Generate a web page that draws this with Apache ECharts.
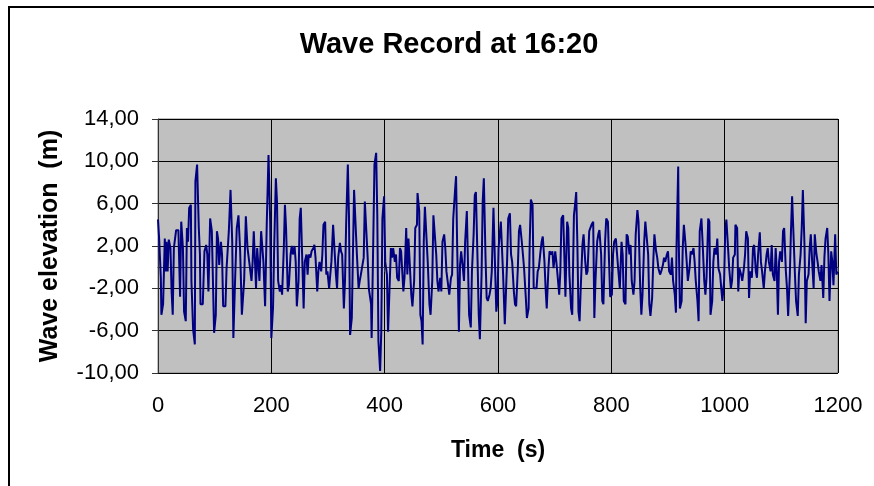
<!DOCTYPE html>
<html>
<head>
<meta charset="utf-8">
<script src="https://cdn.jsdelivr.net/npm/echarts@6/dist/echarts.min.js"></script>
<style>
html,body{margin:0;padding:0;background:#fff;}
#c{width:874px;height:486px;}
</style>
</head>
<body>
<div id="c"></div>
<script>
// Time (s) of each sample
var time = [
0,2,5,6,9,12,14,15,17,19,22,24,26,28,32,36,39,41,44,46,49,51,53,55,58,59,62,65,66,69,72,74,75,79,82,85,87,89,92,95,99,
102,104,106,108,111,113,115,119,121,125,128,131,133,136,139,142,145,148,152,155,158,161,165,167,169,173,175,179,182,186,189,192,195,198,200,
203,205,208,210,212,215,217,219,222,224,226,229,231,234,236,238,241,243,245,248,250,252,255,257,259,262,264,266,269,271,274,276,278,281,283,285,288,290,292,295,297,299,
302,304,306,309,311,314,316,318,321,323,325,328,330,332,335,337,339,342,344,346,349,351,354,356,358,361,363,365,368,370,372,376,377,379,382,385,387,389,392,394,396,399,
401,404,406,408,411,413,415,418,420,422,425,427,429,432,433,435,438,440,442,445,447,449,452,454,457,458,461,463,465,467,469,471,474,476,479,481,484,486,488,491,493,495,498,
500,502,505,507,509,512,514,517,519,521,524,526,528,531,533,535,538,540,542,545,547,549,552,554,557,559,561,564,566,568,571,573,575,578,580,582,585,587,589,592,594,597,599,
601,605,607,609,612,616,618,621,623,625,628,630,632,635,637,639,642,644,646,649,651,654,656,658,661,663,665,668,670,672,675,677,679,682,684,686,689,691,694,696,698,
701,703,705,708,710,712,715,717,719,722,724,726,729,731,734,736,738,740,742,744,746,749,751,754,756,758,761,763,765,768,770,772,775,777,779,782,784,786,789,791,794,796,798,
801,803,805,808,810,812,815,818,820,822,825,827,829,832,834,836,839,841,843,846,848,851,853,855,858,860,862,865,867,869,872,874,876,879,881,883,886,888,891,893,895,898,
900,902,905,907,909,912,914,915,918,919,921,924,926,928,931,933,935,938,940,942,945,947,949,952,954,956,959,961,964,966,968,971,973,975,978,980,982,985,987,989,992,994,996,999,
1001,1003,1006,1008,1011,1013,1015,1018,1019,1022,1024,1026,1029,1031,1034,1036,1038,1041,1043,1045,1048,1050,1052,1055,1057,1059,1062,1064,1066,1069,1071,1074,1076,1078,1081,1083,1085,1088,1090,1092,1094,1096,1098,
1101,1103,1105,1108,1110,1112,1115,1117,1119,1122,1124,1126,1129,1131,1134,1136,1138,1141,1143,1145,1148,1150,1152,1155,1157,1159,1162,1164,1166,1169,1171,1174,1176,1178,1181,1183,1185,1188,1190,1192,1195,1197,1199
];
// Wave elevation (m) at each sample
var elevation = [
4.5,2.7,-1.0,-4.5,-3.5,2.7,-0.4,2.4,-0.4,2.6,1.8,-2.3,-4.5,1.8,3.5,3.5,-2.8,4.3,1.8,-4.2,-5.1,3.7,2.4,5.6,5.9,-1.3,-5.9,-7.3,8.1,9.7,3.7,1.2,-3.5,-3.5,1.5,2.1,1.2,-2.3,4.6,3.4,-6.2,
-4.5,3.4,2.7,0.2,2.4,1.2,-3.7,-3.7,-0.1,3.4,7.3,2.4,-6.7,-1.3,3.7,4.9,1.5,-4.5,-1.3,4.8,1.8,0.5,-1.3,0.5,3.4,-2.0,1.8,-1.3,3.4,0.5,-3.7,4.3,10.6,4.3,-6.7,
-3.8,1.8,8.4,6.2,-1.3,-2.3,-1.7,-2.6,1.8,5.9,3.7,-2.3,-1.7,1.2,2.0,1.2,2.0,0.5,-3.7,-1.3,4.6,5.6,-0.1,-3.9,0.5,1.2,-0.7,1.2,0.9,1.5,1.8,2.1,0.9,-2.3,-0.4,0.5,-0.4,1.2,4.0,4.3,-0.7,-0.4,
-2.0,-0.7,0.5,4.0,4.0,-0.7,-2.0,0.9,2.3,1.5,1.2,-3.9,-1.3,4.0,9.7,4.9,-6.4,-4.8,1.2,7.3,7.3,1.2,-2.0,-1.3,-0.7,-0.6,0.9,6.2,6.2,0.9,-2.0,-3.5,-6.7,-0.4,9.7,10.8,4.9,-7.0,-9.8,-6.1,4.6,6.7,
0.5,-0.7,-6.1,-6.1,1.8,0.9,1.8,0.5,1.2,-1.0,-1.3,1.8,1.5,-1.3,-2.3,-1.0,3.7,-0.7,2.7,2.7,-2.6,-3.7,-1.3,3.7,4.0,7.0,5.3,-4.5,-5.1,-7.3,2.4,5.7,5.6,0.5,-3.5,-4.5,-1.3,4.9,4.9,1.2,-1.3,-2.3,-1.0,
-2.3,2.4,3.1,1.8,-0.4,-1.7,-2.6,-1.0,-0.7,4.6,7.1,8.6,1.8,-6.1,0.2,1.5,-0.1,-1.3,2.4,5.3,5.4,-4.5,-5.7,-0.4,3.1,6.8,7.1,0.5,-4.5,-6.8,-0.7,6.2,8.4,0.9,-2.9,-3.2,-2.6,-2.0,-0.4,5.6,5.7,-4.2,-3.2,
1.8,4.3,4.3,-0.7,-5.4,0.5,4.6,5.1,1.2,0.5,-2.3,-3.5,-3.7,-0.1,3.4,4.0,2.4,1.2,-0.1,-2.8,-4.8,-3.9,2.4,6.4,5.9,-2.0,-2.1,-2.0,-0.4,-0.1,1.5,2.4,2.9,0.5,-2.0,-3.9,-0.1,1.5,1.2,1.5,-0.1,
1.5,0.5,-0.7,-2.6,-0.4,4.6,4.9,1.2,-2.8,4.3,3.7,-0.7,-3.9,-4.5,4.9,5.9,7.1,2.4,-4.2,-5.1,-2.0,2.1,3.1,0.5,-0.7,-0.4,3.4,3.4,4.0,4.3,-4.8,-1.3,2.4,3.1,3.5,1.2,-3.2,-3.5,2.4,4.6,4.3,0.5,-2.8,
-2.6,1.2,2.4,2.7,2.7,-0.1,-2.0,2.4,1.2,-3.2,-3.5,3.1,2.9,1.2,2.1,-1.3,-2.6,-1.3,3.1,5.4,4.3,-2.0,-4.5,-2.6,2.4,4.3,3.1,1.2,-3.5,-4.6,-2.9,0.5,3.1,1.5,0.9,-0.1,-0.7,-0.4,0.2,0.9,0.5,1.2,
1.5,-0.4,-0.7,0.9,-1.3,-2.6,-4.3,1.8,9.5,2.4,-3.9,-3.2,1.8,4.0,2.1,0.5,-1.3,-0.1,1.5,1.2,1.8,0.5,-1.3,-3.2,-5.1,3.4,4.6,2.4,-1.3,-2.6,-1.0,4.6,4.3,-4.5,-3.2,0.5,1.8,1.2,2.7,-0.1,-0.7,-2.0,-3.2,-1.3,
3.4,4.5,1.8,-0.1,-2.0,-1.3,0.9,1.2,4.0,3.7,-2.3,-0.1,-0.7,-1.3,-0.1,1.2,3.4,2.7,-2.9,-0.4,-1.0,1.8,2.1,-0.4,-1.0,1.2,3.3,0.5,-0.4,-2.0,-0.4,1.2,1.8,0.5,-0.4,2.1,-0.7,-1.3,1.8,-0.4,-4.5,0.5,1.5,
0.5,3.4,3.7,-0.4,-2.0,-4.6,-0.7,3.4,6.7,6.8,-0.7,-3.2,-4.6,-0.7,1.2,3.7,7.3,1.8,-5.3,-1.3,-0.7,1.8,3.1,-0.1,-2.0,3.1,1.2,0.5,-0.4,-1.3,0.2,-2.9,0.9,2.7,3.7,1.2,-3.2,1.5,0.5,-1.7,3.1,-0.7,-0.4
];
// Axis ticks
var xTicks = [0, 200, 400, 600, 800, 1000, 1200];
var xTickLabels = ['0', '200', '400', '600', '800', '1000', '1200'];
var yTicks = [-10, -6, -2, 2, 6, 10, 14];
var yTickLabels = ['-10,00', '-6,00', '-2,00', '2,00', '6,00', '10,00', '14,00'];

var titleText = 'Wave Record at 16:20';
var xName = 'Time  (s)';
var yName = 'Wave elevation  (m)';

var points = time.map(function (t, i) { return [t, elevation[i]]; });

var FONT = '"Liberation Sans", Arial, sans-serif';
var chart = echarts.init(document.getElementById('c'), null, {renderer: 'canvas'});
chart.setOption({
  animation: false,
  backgroundColor: '#ffffff',
  title: {
    text: titleText,
    left: 444,
    top: 25,
    textAlign: 'center',
    textStyle: {fontFamily: FONT, fontSize: 29, fontWeight: 'bold', color: '#000'}
  },
  graphic: [{
    type: 'rect',
    shape: {x: 9, y: 7, width: 900, height: 520},
    style: {fill: 'none', stroke: '#000', lineWidth: 2},
    silent: true
  }],
  grid: {
    left: 158, right: 36, top: 119, bottom: 113,
    show: true, backgroundColor: '#c0c0c0', borderColor: '#808080', borderWidth: 1
  },
  xAxis: {
    type: 'value',
    min: xTicks[0], max: xTicks[xTicks.length - 1], interval: xTicks[1] - xTicks[0],
    name: xName, nameLocation: 'middle', nameGap: 66,
    nameTextStyle: {fontFamily: FONT, fontSize: 23, fontWeight: 'bold', color: '#000'},
    axisLine: {show: true, lineStyle: {color: '#333', width: 1}},
    axisTick: {show: true, inside: false, length: 5, lineStyle: {color: '#333'}},
    axisLabel: {
      fontFamily: FONT, fontSize: 22, color: '#000', margin: 22,
      formatter: function (v) {
        var i = xTicks.indexOf(v);
        return i >= 0 ? xTickLabels[i] : '';
      }
    },
    splitLine: {show: true, lineStyle: {color: '#000', width: 1}}
  },
  yAxis: {
    type: 'value',
    min: yTicks[0], max: yTicks[yTicks.length - 1], interval: yTicks[1] - yTicks[0],
    name: yName, nameLocation: 'middle', nameGap: 95,
    nameTextStyle: {fontFamily: FONT, fontSize: 25, fontWeight: 'bold', color: '#000'},
    axisLine: {show: true, lineStyle: {color: '#333', width: 1}},
    axisTick: {show: true, inside: false, length: 6, lineStyle: {color: '#333'}},
    axisLabel: {
      fontFamily: FONT, fontSize: 22, color: '#000', margin: 19,
      formatter: function (v) {
        var i = yTicks.indexOf(v);
        return i >= 0 ? yTickLabels[i] : '';
      }
    },
    splitLine: {show: true, lineStyle: {color: '#000', width: 1}}
  },
  series: [{
    type: 'line',
    data: points,
    showSymbol: false,
    symbol: 'none',
    lineStyle: {color: '#000080', width: 2},
    itemStyle: {color: '#000080'}
  }]
});
</script>
</body>
</html>
